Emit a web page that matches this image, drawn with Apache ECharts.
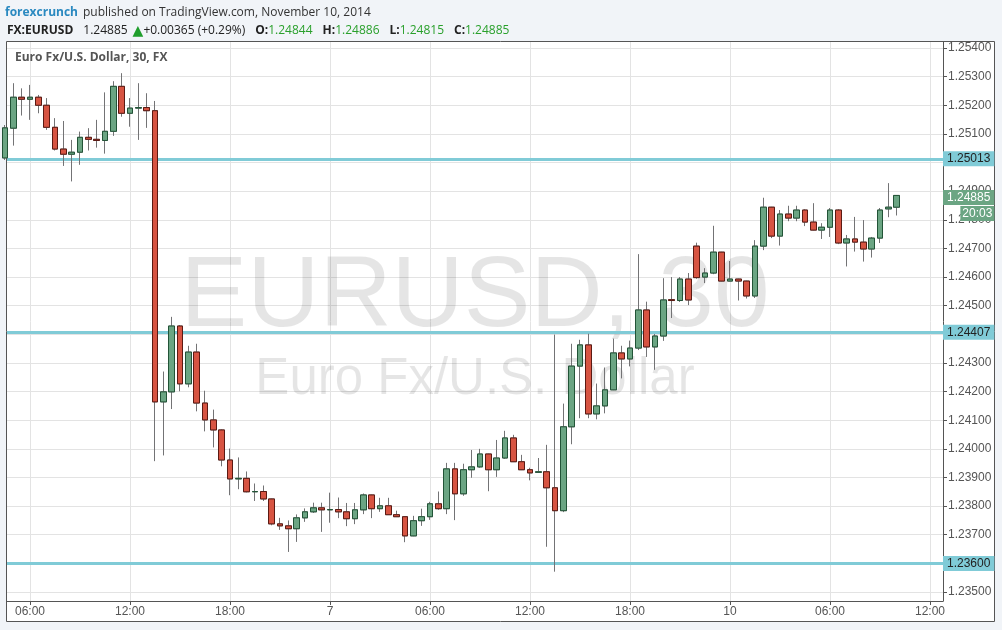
<!DOCTYPE html>
<html><head><meta charset="utf-8">
<script src="https://cdn.jsdelivr.net/npm/echarts@6/dist/echarts.min.js"></script>
<style>html,body{margin:0;padding:0;background:#f1f4f8;}#c{width:1002px;height:630px;}</style>
</head><body><div id="c"></div>
<script>
// 30-minute bars, index 0 = Nov 6 04:30 (UTC); weekend gap removed
const openP = [1.25016,1.25120,1.25228,1.25221,1.25228,1.25200,1.25123,1.25047,1.25029,1.25036,
1.25088,1.25081,1.25077,1.25109,1.25266,1.25172,1.25190,1.25192,1.25181,1.24164,
1.24199,1.24429,1.24227,1.24338,1.24160,1.24101,1.24066,1.23961,1.23895,1.23897,
1.23850,1.23851,1.23825,1.23738,1.23731,1.23721,1.23759,1.23780,1.23794,1.23787,
1.23788,1.23780,1.23756,1.23787,1.23839,1.23791,1.23801,1.23770,1.23763,1.23696,
1.23749,1.23763,1.23808,1.23791,1.23930,1.23843,1.23927,1.23937,1.23982,1.23927,
1.23968,1.24038,1.23955,1.23927,1.23918,1.23920,1.23864,1.23784,1.24077,1.24289,
1.24363,1.24122,1.24150,1.24206,1.24335,1.24314,1.24352,1.24485,1.24356,1.24394,
1.24521,1.24518,1.24593,1.24708,1.24600,1.24614,1.24687,1.24586,1.24593,1.24586,
1.24534,1.24708,1.24844,1.24743,1.24820,1.24806,1.24834,1.24792,1.24764,1.24774,
1.24834,1.24719,1.24733,1.24722,1.24698,1.24736,1.24838,1.24844];
const closeP = [1.25121,1.25228,1.25221,1.25228,1.25200,1.25123,1.25047,1.25029,1.25036,1.25088,
1.25081,1.25077,1.25109,1.25266,1.25172,1.25190,1.25192,1.25181,1.24164,1.24199,
1.24429,1.24227,1.24338,1.24160,1.24101,1.24066,1.23961,1.23895,1.23897,1.23850,
1.23851,1.23825,1.23738,1.23731,1.23721,1.23759,1.23780,1.23794,1.23787,1.23788,
1.23780,1.23756,1.23787,1.23839,1.23791,1.23801,1.23770,1.23763,1.23696,1.23749,
1.23763,1.23808,1.23791,1.23930,1.23843,1.23927,1.23937,1.23982,1.23927,1.23968,
1.24038,1.23955,1.23927,1.23916,1.23920,1.23864,1.23784,1.24077,1.24289,1.24363,
1.24122,1.24150,1.24206,1.24335,1.24314,1.24352,1.24485,1.24356,1.24394,1.24520,
1.24518,1.24593,1.24520,1.24598,1.24614,1.24687,1.24586,1.24593,1.24586,1.24534,
1.24708,1.24844,1.24743,1.24820,1.24806,1.24834,1.24792,1.24764,1.24774,1.24834,
1.24719,1.24733,1.24722,1.24698,1.24736,1.24834,1.24844,1.24885];
const lowP = [1.25009,1.25059,1.25164,1.25149,1.25172,1.25114,1.25042,1.24988,1.24934,1.24992,
1.25042,1.25052,1.25031,1.25093,1.25160,1.25125,1.25079,1.25121,1.23957,1.23977,
1.24139,1.24201,1.24215,1.24131,1.24061,1.24005,1.23939,1.23838,1.23859,1.23848,
1.23818,1.23818,1.23733,1.23717,1.23640,1.23675,1.23745,1.23776,1.23710,1.23742,
1.23758,1.23730,1.23737,1.23772,1.23758,1.23780,1.23769,1.23762,1.23674,1.23695,
1.23731,1.23752,1.23787,1.23772,1.23751,1.23836,1.23899,1.23934,1.23852,1.23902,
1.23965,1.23954,1.23926,1.23890,1.23917,1.23658,1.23571,1.23779,1.24016,1.24107,
1.24107,1.24103,1.24124,1.24205,1.24246,1.24288,1.24345,1.24321,1.24276,1.24377,
1.24457,1.24513,1.24502,1.24594,1.24579,1.24610,1.24585,1.24585,1.24518,1.24525,
1.24527,1.24694,1.24736,1.24710,1.24795,1.24795,1.24778,1.24763,1.24733,1.24740,
1.24715,1.24637,1.24689,1.24654,1.24668,1.24719,1.24809,1.24815];
const highP = [1.25131,1.25277,1.25259,1.25271,1.25236,1.25225,1.25155,1.25145,1.25079,1.25108,
1.25120,1.25149,1.25245,1.25284,1.25312,1.25225,1.25277,1.25242,1.25215,1.24270,
1.24461,1.24432,1.24360,1.24367,1.24203,1.24137,1.24068,1.24001,1.23970,1.23921,
1.23879,1.23872,1.23826,1.23759,1.23750,1.23771,1.23792,1.23812,1.23812,1.23847,
1.23830,1.23811,1.23811,1.23844,1.23840,1.23829,1.23829,1.23784,1.23764,1.23766,
1.23791,1.23815,1.23851,1.23951,1.23951,1.23948,1.23996,1.24000,1.23983,1.24031,
1.24063,1.24049,1.23979,1.23934,1.23968,1.24014,1.24399,1.24158,1.24367,1.24381,
1.24402,1.24228,1.24284,1.24385,1.24360,1.24378,1.24680,1.24514,1.24401,1.24596,
1.24600,1.24600,1.24614,1.24720,1.24631,1.24779,1.24688,1.24656,1.24594,1.24587,
1.24729,1.24877,1.24845,1.24834,1.24849,1.24849,1.24837,1.24858,1.24788,1.24841,
1.24837,1.24747,1.24810,1.24799,1.24740,1.24841,1.24928,1.24886];

const xTickIndex = [3,15,27,39,51,63,75,87,99,111];
const xTickLabels = ['06:00','12:00','18:00','7','06:00','12:00','18:00','10','06:00','12:00'];
const yTicks = [1.235,1.236,1.237,1.238,1.239,1.240,1.241,1.242,1.243,1.244,1.245,1.246,1.247,1.248,1.249,1.250,1.251,1.252,1.253,1.254];
const levels = [1.25013, 1.24407, 1.23600];
const lastPrice = 1.24885;
const barCountdown = '20:03';

const candles = openP.map((o, i) => [i, o, closeP[i], lowP[i], highP[i]]);
const bodies = openP.map((o, i) => [i, o, closeP[i], Math.min(o, closeP[i]), Math.max(o, closeP[i])]);

const AX = 'Liberation Sans, Arial, sans-serif';
const HF = 'Open Sans, sans-serif';
const chart = echarts.init(document.getElementById('c'), null, {renderer: 'canvas'});
chart.setOption({
  backgroundColor: '#f1f4f8',
  animation: false,
  title: [
    {left: 5, top: 4, padding: 0, text: '{a|forexcrunch} {b|published on TradingView.com, November 10, 2014}',
     textStyle: {fontWeight: 'normal', rich: {
       a: {color: '#2a89c0', fontWeight: 'bold', fontSize: 12, fontFamily: HF},
       b: {color: '#333', fontWeight: 'normal', fontSize: 12, fontFamily: HF}}}},
    {left: 7, top: 22, padding: 0, text: '{k|FX:EURUSD}  {n|1.24885} {g|▲}{n|+0.00365 (+0.29%)}  {k|O:}{v|1.24844}  {k|H:}{v|1.24886}  {k|L:}{v|1.24815}  {k|C:}{v|1.24885}',
     textStyle: {fontWeight: 'normal', rich: {
       k: {color: '#222', fontWeight: 'bold', fontSize: 12, fontFamily: HF},
       n: {color: '#222', fontWeight: 'normal', fontSize: 12, fontFamily: HF},
       g: {color: '#1f9e2c', fontWeight: 'normal', fontSize: 14, fontFamily: 'DejaVu Sans'},
       v: {color: '#2aa02c', fontWeight: 'normal', fontSize: 12, fontFamily: HF}}}},
    {left: 15, top: 52, padding: 0, text: 'Euro Fx/U.S. Dollar, 30, FX',
     textStyle: {color: '#555', fontWeight: 'bold', fontSize: 12, fontFamily: HF}}
  ],
  graphic: [
    {type: 'rect', z: -10, silent: true, shape: {x: 6.5, y: 41.5, width: 988, height: 580},
     style: {fill: '#fff', stroke: '#555', lineWidth: 1}},
    {type: 'text', z: 1, silent: true, x: 475, y: 298,
     style: {text: 'EURUSD, 30', fill: 'rgba(0,0,0,0.1)', font: '100px "Liberation Sans"',
       textAlign: 'center', textVerticalAlign: 'middle', align: 'center', verticalAlign: 'middle'}},
    {type: 'text', z: 1, silent: true, x: 475, y: 380,
     style: {text: 'Euro Fx/U.S. Dollar', fill: 'rgba(0,0,0,0.1)', font: '51px "Liberation Sans"',
       textAlign: 'center', textVerticalAlign: 'middle', align: 'center', verticalAlign: 'middle'}}
  ],
  grid: {left: 7, right: 59, top: 42, bottom: 29, show: false},
  xAxis: {
    type: 'value', min: 0.24, max: 112.56,
    axisLine: {show: true, onZero: false, lineStyle: {color: '#555', width: 1}},
    axisTick: {show: true, customValues: xTickIndex, length: 4, lineStyle: {color: '#555'}},
    axisLabel: {customValues: xTickIndex, formatter: v => xTickLabels[xTickIndex.indexOf(v)],
      color: '#555', fontSize: 12, fontFamily: AX, margin: 5},
    splitLine: {show: true, lineStyle: {color: '#e3e3e3', width: 1}}
  },
  yAxis: {
    type: 'value', position: 'right', min: 1.234686, max: 1.254209,
    axisLine: {show: true, lineStyle: {color: '#555', width: 1}},
    axisTick: {show: true, customValues: yTicks, length: 4, lineStyle: {color: '#555'}},
    axisLabel: {customValues: yTicks, formatter: v => v.toFixed(5), color: '#555', fontSize: 12, fontFamily: AX, margin: 5},
    splitLine: {show: true, lineStyle: {color: '#e3e3e3', width: 1}}
  },
  series: [
    {
      name: 'wicks', type: 'candlestick', data: candles, barWidth: 6, z: 10, silent: true, clip: true,
      itemStyle: {color: '#737375', color0: '#737375', borderColor: '#737375', borderColor0: '#737375', borderColorDoji: '#737375', borderWidth: 1},
      emphasis: {disabled: true},
      markLine: {
        z: 5, silent: true, symbol: 'none', animation: false, precision: 5,
        lineStyle: {color: '#80cbd7', width: 3, type: 'solid'},
        label: {show: true, position: 'end', distance: 0, formatter: p => Number(p.value).toFixed(5),
          backgroundColor: '#80cbd7', color: '#222', fontSize: 12, fontFamily: AX, padding: [2, 4, 1, 4]},
        emphasis: {disabled: true},
        data: levels.map(v => ({yAxis: v}))
      }
    },
    {
      name: 'bodies', type: 'candlestick', data: bodies, barWidth: 6, z: 11, silent: true, clip: true,
      itemStyle: {color: '#6ba583', color0: '#d75442', borderColor: '#225437', borderColor0: '#5b1a13', borderColorDoji: '#225437', borderWidth: 1},
      emphasis: {disabled: true},
      markLine: {
        z: 12, silent: true, symbol: 'none', animation: false, precision: 5,
        lineStyle: {color: 'rgba(0,0,0,0)', width: 1, opacity: 1},
        label: {show: true, opacity: 1, position: 'end', distance: 0, verticalAlign: 'top', offset: [0, -6],
          formatter: () => '{a|' + lastPrice.toFixed(5) + '}\n{b|' + barCountdown + '}',
          rich: {
            a: {backgroundColor: '#6ba583', color: '#fff', fontSize: 12, fontFamily: AX, height: 15, lineHeight: 16, padding: [0, 4], align: 'right'},
            b: {backgroundColor: '#6ba583', color: '#fff', fontSize: 12, fontFamily: AX, height: 15, lineHeight: 16, padding: [0, 2], align: 'right'}
          }},
        emphasis: {disabled: true},
        data: [{yAxis: lastPrice}]
      }
    }
  ]
});
</script>
</body></html>
